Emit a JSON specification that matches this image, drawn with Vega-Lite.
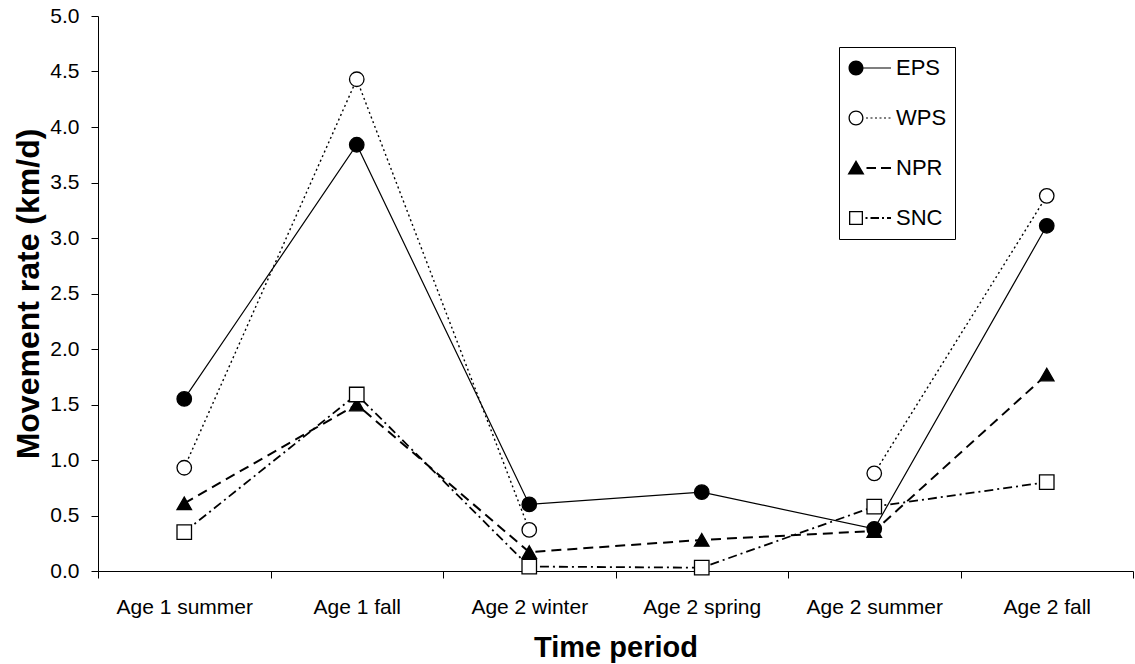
{
  "$schema": "https://vega.github.io/schema/vega-lite/v6.json",
  "width": 1035,
  "height": 555,
  "autosize": "none",
  "padding": {"left": 98, "top": 16, "right": 2, "bottom": 93},
  "background": "white",
  "config": {
    "view": {"stroke": null},
    "font": "Liberation Sans",
    "axis": {
      "domainColor": "black",
      "domainWidth": 1,
      "tickColor": "black",
      "tickWidth": 1,
      "tickSize": 7,
      "labelColor": "black",
      "labelFont": "Liberation Sans",
      "labelFontSize": 21,
      "titleColor": "black",
      "titleFont": "Liberation Sans",
      "titleFontWeight": "bold",
      "grid": false
    }
  },
  "data": {
    "values": [
      {"period": "Age 1 summer", "site": "EPS", "rate": 1.55},
      {"period": "Age 1 fall", "site": "EPS", "rate": 3.84},
      {"period": "Age 2 winter", "site": "EPS", "rate": 0.60},
      {"period": "Age 2 spring", "site": "EPS", "rate": 0.71},
      {"period": "Age 2 summer", "site": "EPS", "rate": 0.38},
      {"period": "Age 2 fall", "site": "EPS", "rate": 3.11},
      {"period": "Age 1 summer", "site": "WPS", "rate": 0.93},
      {"period": "Age 1 fall", "site": "WPS", "rate": 4.43},
      {"period": "Age 2 winter", "site": "WPS", "rate": 0.37},
      {"period": "Age 2 spring", "site": "WPS", "rate": null},
      {"period": "Age 2 summer", "site": "WPS", "rate": 0.88},
      {"period": "Age 2 fall", "site": "WPS", "rate": 3.38},
      {"period": "Age 1 summer", "site": "NPR", "rate": 0.61},
      {"period": "Age 1 fall", "site": "NPR", "rate": 1.50},
      {"period": "Age 2 winter", "site": "NPR", "rate": 0.17},
      {"period": "Age 2 spring", "site": "NPR", "rate": 0.28},
      {"period": "Age 2 summer", "site": "NPR", "rate": 0.36},
      {"period": "Age 2 fall", "site": "NPR", "rate": 1.77},
      {"period": "Age 1 summer", "site": "SNC", "rate": 0.35},
      {"period": "Age 1 fall", "site": "SNC", "rate": 1.59},
      {"period": "Age 2 winter", "site": "SNC", "rate": 0.04},
      {"period": "Age 2 spring", "site": "SNC", "rate": 0.03},
      {"period": "Age 2 summer", "site": "SNC", "rate": 0.58},
      {"period": "Age 2 fall", "site": "SNC", "rate": 0.80}
    ]
  },
  "encoding": {
    "x": {
      "field": "period",
      "type": "nominal",
      "sort": ["Age 1 summer", "Age 1 fall", "Age 2 winter", "Age 2 spring", "Age 2 summer", "Age 2 fall"],
      "scale": {"paddingInner": 0, "paddingOuter": 0},
      "axis": {
        "title": "Time period",
        "titleFontSize": 29,
        "labelAngle": 0,
        "tickBand": "extent",
        "labelPadding": 18,
        "titlePadding": 16
      }
    },
    "y": {
      "field": "rate",
      "type": "quantitative",
      "scale": {"domain": [0, 5], "nice": false, "zero": true},
      "axis": {
        "title": "Movement rate (km/d)",
        "titleFontSize": 32,
        "values": [0, 0.5, 1, 1.5, 2, 2.5, 3, 3.5, 4, 4.5, 5],
        "format": ".1f",
        "labelPadding": 12,
        "titlePadding": 4
      }
    }
  },
  "layer": [
    {
      "transform": [{"filter": "datum.site === 'EPS'"}],
      "mark": {"type": "line", "color": "black", "strokeWidth": 1.2}
    },
    {
      "transform": [{"filter": "datum.site === 'WPS'"}],
      "mark": {"type": "line", "color": "black", "strokeWidth": 1.4, "strokeDash": [2, 3], "invalid": "break-paths-show-domains"}
    },
    {
      "transform": [{"filter": "datum.site === 'NPR'"}],
      "mark": {"type": "line", "color": "black", "strokeWidth": 2, "strokeDash": [10, 6]}
    },
    {
      "transform": [{"filter": "datum.site === 'SNC'"}],
      "mark": {"type": "line", "color": "black", "strokeWidth": 1.8, "strokeDash": [9, 4, 2, 4]}
    },
    {
      "mark": {"type": "point", "filled": false, "stroke": "black", "strokeWidth": 1.3, "size": 210, "opacity": 1},
      "encoding": {
        "shape": {
          "field": "site",
          "type": "nominal",
          "scale": {"domain": ["EPS", "WPS", "NPR", "SNC"], "range": ["circle", "circle", "triangle-up", "square"]},
          "legend": null
        },
        "fill": {
          "field": "site",
          "type": "nominal",
          "scale": {"domain": ["EPS", "WPS", "NPR", "SNC"], "range": ["black", "white", "black", "white"]},
          "legend": null
        }
      }
    },
    {
      "mark": {"type": "point", "filled": true, "color": "black", "opacity": 0},
      "encoding": {
        "shape": {
          "field": "site",
          "type": "nominal",
          "scale": {
            "domain": ["EPS", "WPS", "NPR", "SNC"],
            "range": [
              "M0,-0.6H35V0.6H0Z M7.5,0A7.5,7.5 0 1,1 -7.5,0A7.5,7.5 0 1,1 7.5,0Z",
              "M7.5,0A7.5,7.5 0 1,1 -7.5,0A7.5,7.5 0 1,1 7.5,0Z M6.2,0A6.2,6.2 0 1,0 -6.2,0A6.2,6.2 0 1,0 6.2,0Z M10,-0.6H12V0.6H10Z M14.5,-0.6H16.5V0.6H14.5Z M19,-0.6H21V0.6H19Z M23.5,-0.6H25.5V0.6H23.5Z M28,-0.6H30V0.6H28Z M32.5,-0.6H34.5V0.6H32.5Z",
              "M0,-8L8.5,6.5H-8.5Z M10.5,-1H20V1H10.5Z M25,-1H35V1H25Z",
              "M-7,-7H7V7H-7Z M-5.7,-5.7V5.7H5.7V-5.7Z M9.5,-0.9H11.5V0.9H9.5Z M14.5,-0.9H23V0.9H14.5Z M26,-0.9H28V0.9H26Z M31,-0.9H35V0.9H31Z"
            ]
          },
          "legend": {
            "title": null,
            "orient": "none",
            "legendX": 741,
            "legendY": 31,
            "padding": 8,
            "strokeColor": "black",
            "fillColor": "white",
            "symbolSize": 4,
            "symbolOpacity": 1,
            "symbolStrokeWidth": 0,
            "symbolStrokeColor": "transparent",
            "symbolFillColor": "black",
            "symbolOffset": -2,
            "labelOffset": 29,
            "labelFont": "Liberation Sans",
            "labelFontSize": 22,
            "labelColor": "black",
            "clipHeight": 26,
            "rowPadding": 24
          }
        }
      }
    }
  ],
  "resolve": {"scale": {"shape": "independent", "fill": "independent"}, "legend": {"shape": "independent"}}
}
